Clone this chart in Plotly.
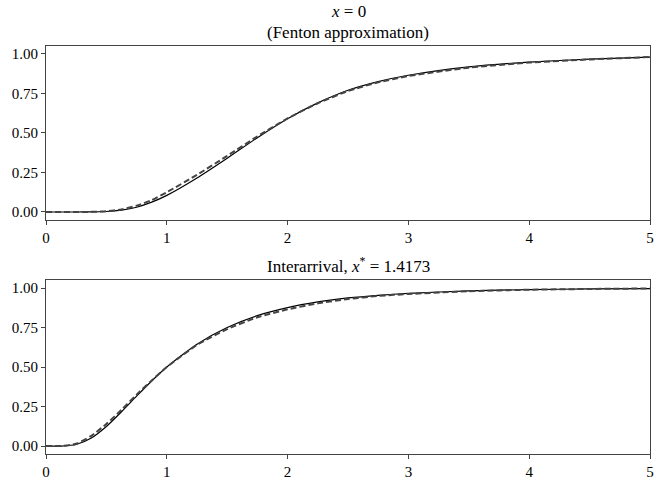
import plotly.graph_objects as go

# shared x grid
x_vals = [0, 0.125, 0.25, 0.375, 0.5, 0.625, 0.75, 0.875, 1.0, 1.25, 1.5, 1.75,
          2.0, 2.25, 2.5, 2.75, 3.0, 3.5, 4.0, 4.5, 5.0]

# top panel: x = 0 (Fenton approximation)
top_solid = [0, 0, 0, 0.0005, 0.003, 0.012, 0.03, 0.062, 0.105, 0.215, 0.34, 0.47,
             0.59, 0.69, 0.77, 0.825, 0.865, 0.918, 0.948, 0.967, 0.98]
top_dashed = [0, 0, 0, 0.001, 0.005, 0.016, 0.04, 0.075, 0.125, 0.235, 0.355, 0.478,
              0.592, 0.688, 0.765, 0.82, 0.86, 0.913, 0.945, 0.965, 0.98]

# bottom panel: interarrival
bot_solid = [0, 0.0003, 0.010, 0.051, 0.124, 0.217, 0.316, 0.412, 0.5, 0.645, 0.75, 0.825,
             0.876, 0.912, 0.937, 0.954, 0.966, 0.982, 0.990, 0.994, 0.996]
bot_dashed = [0, 0.001, 0.015, 0.065, 0.14, 0.23, 0.325, 0.415, 0.5, 0.64, 0.74, 0.815,
              0.865, 0.903, 0.93, 0.95, 0.962, 0.98, 0.989, 0.994, 0.997]

x_ticks = [0, 1, 2, 3, 4, 5]
y_ticks = [0, 0.25, 0.5, 0.75, 1.0]
y_ticklabels = ["0.00", "0.25", "0.50", "0.75", "1.00"]

title_top_1 = "<i>x</i> = 0"
title_top_2 = "(Fenton approximation)"
title_bot = "Interarrival, <i>x</i><sup>*</sup> = 1.4173"

FONT = "Liberation Serif"
AX = "#444444"
TICK_SIZE = 15
TITLE_SIZE = 17

fig = go.Figure()

solid_style = dict(color="black", width=1.2, shape="spline", smoothing=0.6)
dash_style = dict(color="#444444", width=2, dash="6px,3px", shape="spline", smoothing=0.6)

fig.add_trace(go.Scatter(x=x_vals, y=top_solid, mode="lines", line=solid_style,
                         xaxis="x", yaxis="y", showlegend=False))
fig.add_trace(go.Scatter(x=x_vals, y=top_dashed, mode="lines", line=dash_style,
                         xaxis="x", yaxis="y", showlegend=False))
fig.add_trace(go.Scatter(x=x_vals, y=bot_solid, mode="lines", line=solid_style,
                         xaxis="x2", yaxis="y2", showlegend=False))
fig.add_trace(go.Scatter(x=x_vals, y=bot_dashed, mode="lines", line=dash_style,
                         xaxis="x2", yaxis="y2", showlegend=False))

xcommon = dict(range=[0, 5], tickvals=x_ticks, ticks="outside", ticklen=4, tickwidth=1,
               tickcolor=AX, showline=True, linecolor=AX, linewidth=1.1, mirror=True,
               showgrid=False, zeroline=False, ticklabeloverflow="allow",
               tickfont=dict(family=FONT, size=TICK_SIZE, color="black"))
ycommon = dict(range=[-0.05, 1.05], tickvals=y_ticks, ticktext=y_ticklabels, ticks="outside",
               ticklen=4, tickwidth=1, tickcolor=AX, showline=True, linecolor=AX, linewidth=1.1,
               mirror=True, showgrid=False, zeroline=False,
               tickfont=dict(family=FONT, size=TICK_SIZE, color="black"))

fig.update_layout(
    width=656, height=482,
    margin=dict(l=46, r=2, t=46, b=23),
    paper_bgcolor="white", plot_bgcolor="white",
    xaxis=dict(domain=[0, 1], anchor="y", **xcommon),
    yaxis=dict(domain=[0.5738, 1.0], anchor="x", **ycommon),
    xaxis2=dict(domain=[0, 1], anchor="y2", **xcommon),
    yaxis2=dict(domain=[0, 0.4262], anchor="x2", **ycommon),
    annotations=[
        dict(text=title_top_1, x=0.5, y=(459 - 11) / 413, xref="paper", yref="paper",
             xanchor="center", yanchor="middle", showarrow=False,
             font=dict(family=FONT, size=TITLE_SIZE, color="black")),
        dict(text=title_top_2, x=0.5, y=(459 - 32) / 413, xref="paper", yref="paper",
             xanchor="center", yanchor="middle", showarrow=False,
             font=dict(family=FONT, size=TITLE_SIZE, color="black")),
        dict(text=title_bot, x=0.5, y=(459 - 268) / 413, xref="paper", yref="paper",
             xanchor="center", yanchor="middle", showarrow=False,
             font=dict(family=FONT, size=TITLE_SIZE, color="black")),
    ],
)

fig.write_html("out.html")
